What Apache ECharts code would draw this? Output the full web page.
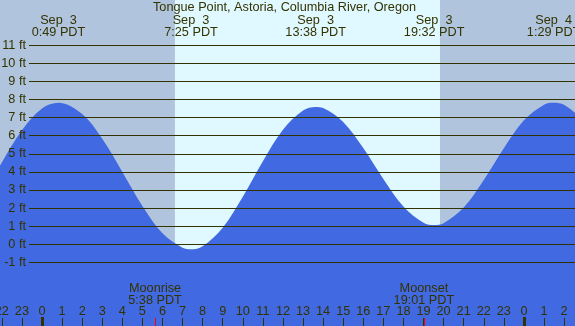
<!DOCTYPE html>
<html>
<head>
<meta charset="utf-8">
<script src="https://cdn.jsdelivr.net/npm/echarts@6/dist/echarts.min.js"></script>
<style>
html,body{margin:0;padding:0;background:#b0c4de;}
#chart{width:575px;height:326px;}
</style>
</head>
<body>
<div id="chart"></div>
<script>
// ---- data (hours since Sep 3 00:00 PDT) ----
const tideHours = [-3, -2, -1, 0, 0.817, 2, 3, 4, 5, 6, 7, 7.417, 8, 9, 10, 11, 12, 13, 13.633, 14, 15, 16, 17, 18, 19, 19.533, 20, 21, 22, 23, 24, 25, 25.483, 26, 27];
const tideFeet  = [2.58, 4.52, 6.30, 7.51, 7.83, 7.20, 5.83, 4.00, 2.12, 0.60, -0.20, -0.28, -0.11, 0.91, 2.62, 4.59, 6.33, 7.39, 7.59, 7.53, 6.76, 5.32, 3.61, 2.09, 1.19, 1.06, 1.16, 2.03, 3.55, 5.31, 6.85, 7.72, 7.83, 7.71, 6.83];

const extremeHours  = [0.817, 7.417, 13.633, 19.533, 25.483];
const extremeLabels = ['Sep  3\n0:49 PDT', 'Sep  3\n7:25 PDT', 'Sep  3\n13:38 PDT', 'Sep  3\n19:32 PDT', 'Sep  4\n1:29 PDT'];

const moonHours  = [5.633, 19.017];
const moonLabels = ['Moonrise\n5:38 PDT', 'Moonset\n19:01 PDT'];

const sunrise = 6.62, sunset = 19.82;

const feetLines = [-1, 0, 1, 2, 3, 4, 5, 6, 7, 8, 9, 10, 11];
const titleText = 'Tongue Point, Astoria, Columbia River, Oregon';

// ---- view ranges ----
const X_MIN = -3, X_MAX = 27;          // hours covered by the (wider than canvas) grid
const GL = -18.24, GR = -9.16;          // grid overhang so that the canvas shows -2.09 .. 26.54 h
const Y_MIN = -4.524, Y_MAX = 13.507;

const TXT = '#333300';
const FONT = 'Liberation Sans';
const FS = 12.7;

const chart = echarts.init(document.getElementById('chart'), null, {renderer: 'canvas'});

const noLine = {show: false, onZero: false};
const hidden = {show: false};
const g = o => Object.assign({containLabel: false, outerBoundsMode: 'none'}, o);

chart.setOption({
  backgroundColor: '#b0c4de',
  animation: false,
  title: {
    text: titleText, left: 153, top: 1, padding: 0,
    textStyle: {fontFamily: FONT, fontSize: FS, fontWeight: 'normal', color: TXT}
  },
  grid: [
    g({left: GL, right: GR, top: 0, bottom: 0}),          // 0 main
    g({left: 29, right: 0, top: 0, bottom: 0}),           // 1 feet lines
    g({left: 42, right: GR, top: 0, bottom: 0}),          // 2 midnight ticks
    g({left: GL, right: GR, bottom: 0, height: 8}),       // 3 moon ticks
    g({left: GL, right: GR, top: 0, height: 14})          // 4 tide time labels
  ],
  xAxis: [
    {
      type: 'value', gridIndex: 0, min: X_MIN, max: X_MAX, interval: 1, position: 'bottom', z: 20,
      axisLine: noLine, splitLine: hidden,
      axisTick: {show: true, inside: true, length: 8, lineStyle: {color: TXT, width: 1}},
      axisLabel: {show: true, inside: true, margin: 8.5, fontFamily: FONT, fontSize: FS, lineHeight: 12, color: TXT,
        formatter: v => (Math.abs(v - Math.round(v)) < 1e-6 ? String(((Math.round(v) % 24) + 24) % 24) : '')}
    },
    {type: 'value', gridIndex: 1, min: 0, max: 1, show: false},
    {
      type: 'value', gridIndex: 2, min: 0, max: 27, interval: 24, position: 'bottom', z: 21,
      axisLine: noLine, splitLine: hidden, axisLabel: hidden,
      axisTick: {show: true, inside: true, length: 9, lineStyle: {color: TXT, width: 3}}
    },
    {type: 'value', gridIndex: 3, min: X_MIN, max: X_MAX, show: false},
    {type: 'value', gridIndex: 4, min: X_MIN, max: X_MAX, show: false}
  ],
  yAxis: [
    {type: 'value', gridIndex: 0, min: Y_MIN, max: Y_MAX, show: false},
    {type: 'value', gridIndex: 1, min: Y_MIN, max: Y_MAX, show: false},
    {type: 'value', gridIndex: 2, min: 0, max: 1, show: false},
    {type: 'value', gridIndex: 3, min: 0, max: 1, show: false},
    {type: 'value', gridIndex: 4, min: 0, max: 1, show: false}
  ],
  series: [
    {
      type: 'line', xAxisIndex: 0, yAxisIndex: 0, data: [], z: 1, silent: true,
      markArea: {
        silent: true,
        itemStyle: {color: '#e0f8ff'},
        data: [[{xAxis: sunrise}, {xAxis: sunset}]]
      }
    },
    {
      type: 'line', xAxisIndex: 0, yAxisIndex: 0, z: 2, silent: true,
      data: tideHours.map((h, i) => [h, tideFeet[i]]),
      smooth: 0.35, showSymbol: false, symbol: 'none',
      lineStyle: {width: 0, color: '#4169e1'},
      areaStyle: {color: '#4169e1', opacity: 1, origin: 'start'}
    },
    {
      type: 'line', xAxisIndex: 1, yAxisIndex: 1, data: [], z: 3, silent: true,
      markLine: {
        silent: true, symbol: 'none', animation: false,
        lineStyle: {color: TXT, width: 1, type: 'solid'},
        label: {show: true, position: 'start', distance: 3, fontFamily: FONT, fontSize: FS, color: TXT,
          formatter: p => p.value + ' ft'},
        data: feetLines.map(f => ({yAxis: f}))
      }
    },
    {
      type: 'line', xAxisIndex: 3, yAxisIndex: 3, data: [], z: 22, silent: true,
      markLine: {
        silent: true, symbol: 'none', animation: false,
        lineStyle: {color: '#ff0000', width: 1, type: 'solid'},
        label: {show: true, position: 'end', distance: 11.7, fontFamily: FONT, fontSize: FS, lineHeight: 12, color: TXT,
          formatter: p => moonLabels[p.dataIndex]},
        data: moonHours.map(h => ({xAxis: h}))
      }
    },
    {
      type: 'line', xAxisIndex: 4, yAxisIndex: 4, data: [], z: 4, silent: true,
      markLine: {
        silent: true, symbol: 'none', animation: false,
        lineStyle: {color: 'rgba(0,0,0,0)', width: 1, type: 'solid'},
        label: {show: true, position: 'start', distance: 0, fontFamily: FONT, fontSize: FS, lineHeight: 12, color: TXT,
          formatter: p => extremeLabels[p.dataIndex]},
        data: extremeHours.map(h => ({xAxis: h}))
      }
    }
  ]
});
</script>
</body>
</html>
